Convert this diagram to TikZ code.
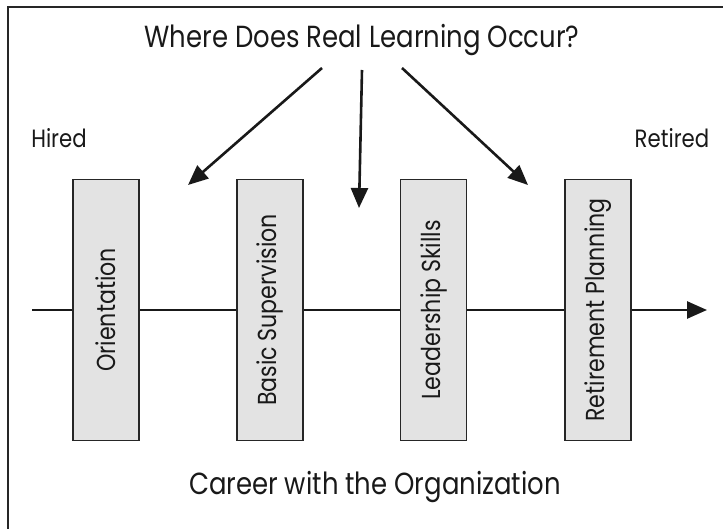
\documentclass[tikz,border=0pt]{standalone}
\usepackage{fontspec}
\setmainfont[FakeStretch=0.85]{Poppins}
\usetikzlibrary{arrows.meta}
\begin{document}
\begin{tikzpicture}[x=1pt,y=-1pt,
  stagebox/.style={draw=black!85,line width=1.3pt,fill=black!11,minimum width=66pt,minimum height=261pt,inner sep=0pt},
  stagetext/.style={rotate=90,inner sep=0pt,font=\fontsize{26}{26}\selectfont,text=black!90},
  bigtext/.style={inner sep=0pt,font=\fontsize{30.5}{30.5}\selectfont,text=black!90},
  sidetext/.style={inner sep=0pt,font=\fontsize{25}{25}\selectfont,text=black!90},
  arr/.style={line width=2.6pt,draw=black!90,-{Triangle[length=20pt,width=17pt]}},
  axis/.style={line width=2.6pt,draw=black!90}
]
\useasboundingbox (0,0) rectangle (723,529);
\draw[line width=1.5pt,black!85] (8,529) -- (8,7) -- (723,7);

\node[bigtext] (title) at (362,40) {Where Does Real Learning Occur?};
\node[sidetext] (hired) at (59,138) {Hired};
\node[sidetext] (retired) at (672,138) {Retired};
\node[bigtext] (career) at (375,487) {Career with the Organization};

\coordinate (s1) at (322,68);
\coordinate (s2) at (362,70);
\coordinate (s3) at (402,68);
\coordinate (e1) at (188,185);
\coordinate (e2) at (359,208);
\coordinate (e3) at (528,185);
\draw[arr] (s1) -- (e1);
\draw[arr] (s2) -- (e2);
\draw[arr] (s3) -- (e3);

\node[stagebox] (b1) at (106,310) {};
\node[stagebox] (b2) at (270,310) {};
\node[stagebox] (b3) at (433.5,310) {};
\node[stagebox] (b4) at (598,310) {};
\node[stagetext] (t1) at (b1) {Orientation};
\node[stagetext] (t2) at (b2) {Basic Supervision};
\node[stagetext] (t3) at (b3) {Leadership Skills};
\node[stagetext] (t4) at (b4) {Retirement Planning};

\coordinate (ls) at (32,310);
\coordinate (le) at (707,310);
\draw[axis] (ls) -- (b1.west);
\draw[axis] (b1.east) -- (b2.west);
\draw[axis] (b2.east) -- (b3.west);
\draw[axis] (b3.east) -- (b4.west);
\draw[axis,-{Triangle[length=20pt,width=17pt]}] (b4.east) -- (le);
\end{tikzpicture}
\end{document}
